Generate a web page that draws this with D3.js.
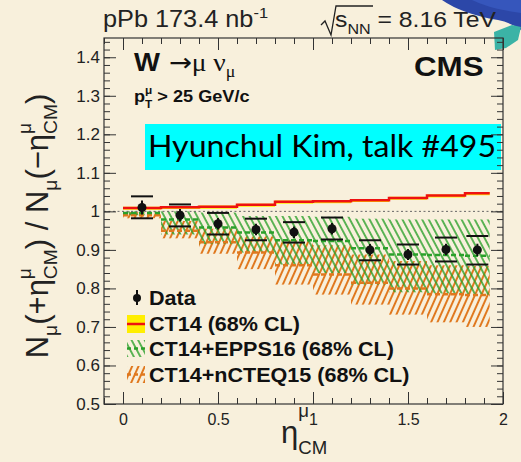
<!DOCTYPE html>
<html>
<head>
<meta charset="UTF-8">
<script src="https://cdn.jsdelivr.net/npm/d3@7"></script>
<style>
  body { margin: 0; background: #f8f0dc; }
  svg { display: block; }
</style>
</head>
<body>
<script>
const width = 521, height = 462;

// eta_CM bins
const binEdges = [0, 0.2, 0.4, 0.6, 0.8, 1.0, 1.2, 1.4, 1.6, 1.8, 1.93];

// data points
const dataX   = [0.1, 0.3, 0.5, 0.7, 0.9, 1.1, 1.3, 1.5, 1.7, 1.865];
const dataY   = [1.010, 0.990, 0.968, 0.953, 0.946, 0.955, 0.900, 0.888, 0.901, 0.900];
const statErr = [0.018, 0.016, 0.015, 0.015, 0.015, 0.015, 0.015, 0.014, 0.015, 0.016];
const sysHi   = [1.039, 1.018, 0.996, 0.981, 0.972, 0.984, 0.925, 0.914, 0.932, 0.936];
const sysLo   = [0.982, 0.961, 0.940, 0.925, 0.919, 0.927, 0.873, 0.862, 0.870, 0.862];

// CT14
const ct14    = [1.009, 1.011, 1.012, 1.017, 1.025, 1.026, 1.029, 1.035, 1.041, 1.047];
const ct14Hi  = [1.012, 1.014, 1.015, 1.020, 1.028, 1.029, 1.032, 1.038, 1.044, 1.050];
const ct14Lo  = [1.004, 1.006, 1.007, 1.012, 1.020, 1.021, 1.024, 1.030, 1.036, 1.042];

// CT14+EPPS16
const eppsHi  = [1.000, 1.000, 0.997, 0.988, 0.988, 0.986, 0.981, 0.979, 0.979, 0.979];
const eppsC   = [0.996, 0.979, 0.958, 0.945, 0.925, 0.923, 0.904, 0.888, 0.887, 0.885];
const eppsLo  = [0.990, 0.940, 0.915, 0.893, 0.862, 0.840, 0.810, 0.790, 0.787, 0.784];

// CT14+nCTEQ15
const ncteqHi = [0.998, 0.975, 0.955, 0.935, 0.925, 0.912, 0.888, 0.871, 0.860, 0.858];
const ncteqC  = [0.990, 0.950, 0.920, 0.893, 0.860, 0.836, 0.815, 0.800, 0.785, 0.783];
const ncteqLo = [0.982, 0.930, 0.890, 0.850, 0.810, 0.784, 0.758, 0.732, 0.712, 0.700];

const yTicks = [0.5, 0.6, 0.7, 0.8, 0.9, 1.0, 1.1, 1.2, 1.3, 1.4];
const xTicks = [0, 0.5, 1, 1.5, 2];

const legendLabels = ["Data", "CT14 (68% CL)", "CT14+EPPS16 (68% CL)", "CT14+nCTEQ15 (68% CL)"];

const helv = "'Liberation Sans', Arial, sans-serif";
const serif = "'Liberation Serif', 'DejaVu Serif', serif";
const sx = 1.1; // picture is a bit stretched sideways
const sp = "\u00a0";

const svg = d3.select("body").append("svg")
  .attr("width", width).attr("height", height);

svg.append("rect").attr("width", width).attr("height", height).attr("fill", "#f8f0dc");

// slide decoration top right
svg.append("path").attr("d", "M442,0 Q462,14 498,20 Q512,23 521,30 L521,0 Z").attr("fill", "#2c47a8");
svg.append("path").attr("d", "M472,0 Q490,9 521,13 L521,0 Z").attr("fill", "#3b5cc4").attr("opacity", 0.7);
svg.append("path").attr("d", "M494,32 L512,25 L521,27 L518,40 L506,48 L495,50 Z").attr("fill", "#3bb3a6");

const x = d3.scaleLinear().domain([-0.1, 2.0]).range([104, 503]);
const y = d3.scaleLinear().domain([0.5, 1.45]).range([404, 38]);

const defs = svg.append("defs");
function hatch(id, color, angle, sw, gap) {
  defs.append("pattern").attr("id", id)
    .attr("patternUnits", "userSpaceOnUse")
    .attr("width", gap).attr("height", gap)
    .attr("patternTransform", "rotate(" + angle + ")")
    .append("line")
    .attr("x1", gap / 2).attr("y1", 0).attr("x2", gap / 2).attr("y2", gap)
    .attr("stroke", color).attr("stroke-width", sw);
}
hatch("hOrange", "#e0781e", 24, 2, 5.8);
hatch("hGreen", "#2aa02a", -28, 1.5, 5.8);

const bins = d3.range(binEdges.length - 1);

// bands
function band(hi, lo, fill) {
  svg.append("g").selectAll("rect").data(bins).join("rect")
    .attr("x", i => x(binEdges[i]))
    .attr("width", i => x(binEdges[i + 1]) - x(binEdges[i]))
    .attr("y", i => y(hi[i]))
    .attr("height", i => y(lo[i]) - y(hi[i]))
    .attr("fill", fill);
}
function centre(c, color, sw, dash) {
  svg.append("g").selectAll("line").data(bins).join("line")
    .attr("x1", i => x(binEdges[i])).attr("x2", i => x(binEdges[i + 1]))
    .attr("y1", i => y(c[i])).attr("y2", i => y(c[i]))
    .attr("stroke", color).attr("stroke-width", sw)
    .attr("stroke-dasharray", dash);
}
band(ncteqHi, ncteqLo, "url(#hOrange)");
band(eppsHi, eppsLo, "url(#hGreen)");
centre(ncteqC, "#e0781e", 2.5, "5,3");
centre(eppsC, "#2aa02a", 2.5, "5,3");

// CT14 step band + line
const ctIdx = bins.concat([bins.length]);
const last = bins.length - 1;
svg.append("path")
  .datum(ctIdx)
  .attr("fill", "#ffee00")
  .attr("d", d3.area().curve(d3.curveStepAfter)
    .x(i => x(binEdges[i]))
    .y0(i => y(ct14Lo[Math.min(i, last)]))
    .y1(i => y(ct14Hi[Math.min(i, last)])));
svg.append("path")
  .datum(ctIdx)
  .attr("fill", "none").attr("stroke", "#ee1111").attr("stroke-width", 2.5)
  .attr("d", d3.line().curve(d3.curveStepAfter)
    .x(i => x(binEdges[i]))
    .y(i => y(ct14[Math.min(i, last)])));

// unity line
svg.append("line")
  .attr("x1", x(-0.1)).attr("x2", x(2.0)).attr("y1", y(1)).attr("y2", y(1))
  .attr("stroke", "#666").attr("stroke-width", 1).attr("stroke-dasharray", "2,2.5");

// data
const dg = svg.append("g");
const pts = d3.range(dataX.length);
dg.selectAll(".cap-hi").data(pts).join("line")
  .attr("x1", i => x(dataX[i]) - 11).attr("x2", i => x(dataX[i]) + 11)
  .attr("y1", i => y(sysHi[i])).attr("y2", i => y(sysHi[i]))
  .attr("stroke", "#111").attr("stroke-width", 2);
dg.selectAll(".cap-lo").data(pts).join("line")
  .attr("x1", i => x(dataX[i]) - 11).attr("x2", i => x(dataX[i]) + 11)
  .attr("y1", i => y(sysLo[i])).attr("y2", i => y(sysLo[i]))
  .attr("stroke", "#111").attr("stroke-width", 2);
dg.selectAll(".stat").data(pts).join("line")
  .attr("x1", i => x(dataX[i])).attr("x2", i => x(dataX[i]))
  .attr("y1", i => y(dataY[i] + statErr[i])).attr("y2", i => y(dataY[i] - statErr[i]))
  .attr("stroke", "#111").attr("stroke-width", 2);
dg.selectAll("circle").data(pts).join("circle")
  .attr("cx", i => x(dataX[i])).attr("cy", i => y(dataY[i])).attr("r", 4.5)
  .attr("fill", "#111");

// cyan label box
svg.append("rect").attr("x", 145).attr("y", 124).attr("width", 356).attr("height", 46)
  .attr("fill", "#00ffff");
svg.append("text").attr("x", 148).attr("y", 157)
  .attr("font-family", "Lato, 'Open Sans', sans-serif").attr("font-size", 31)
  .attr("textLength", 348).attr("lengthAdjust", "spacingAndGlyphs")
  .attr("fill", "#000").text("Hyunchul Kim, talk #495");

// axes (ticks on all four sides, pointing inwards)
const yMinor = d3.range(0.5, 1.4501, 0.02).map(v => +v.toFixed(2));
const xMinor = d3.range(-0.1, 2.0001, 0.1).map(v => +v.toFixed(2));
const fmt = d3.format("~g");
function axis(gen, tx, ty, vals, size, labels) {
  const g = svg.append("g").attr("transform", "translate(" + tx + "," + ty + ")")
    .call(gen.tickValues(vals).tickSize(size).tickPadding(4)
      .tickFormat(labels ? fmt : ""));
  g.select(".domain").remove();
  g.selectAll(".tick line").attr("stroke", "#333");
  g.selectAll(".tick text").attr("font-family", helv).attr("font-size", 17).attr("fill", "#222");
  return g;
}
axis(d3.axisLeft(y), 104, 0, yMinor, -6, false);
axis(d3.axisLeft(y), 104, 0, yTicks, -12, true);
axis(d3.axisRight(y), 503, 0, yMinor, -6, false);
axis(d3.axisRight(y), 503, 0, yTicks, -12, false);
axis(d3.axisBottom(x), 0, 404, xMinor, -6, false);
const xa = axis(d3.axisBottom(x), 0, 404, xTicks, -12, true);
xa.selectAll(".tick text").attr("dy", "1.05em").attr("font-size", 16);
axis(d3.axisTop(x), 0, 38, xMinor, -6, false);
axis(d3.axisTop(x), 0, 38, xTicks, -12, false);

svg.append("rect").attr("x", 104).attr("y", 38).attr("width", 399).attr("height", 366)
  .attr("fill", "none").attr("stroke", "#333").attr("stroke-width", 1.2);

// rich text: parts [text, kind, weight, family]; kind '' | 'u' | 'd' | 'ds' (sub stacked under sup)
function rich(transform, parts, o) {
  const g = svg.append("g").attr("transform", transform);
  const sc = o.scale || 0.65;
  let cx = 0, supStart = 0, supEnd = 0;
  parts.forEach(p => {
    const t = p[0], k = p[1] || "", wt = p[2] || o.weight || "normal", fam = p[3] || o.family || helv;
    const fs = k ? o.size * sc : o.size;
    let px = cx, py = 0;
    if (k === "u") { py = -o.size * (o.up || 0.42); supStart = cx; }
    if (k === "d") py = o.size * (o.down || 0.22);
    if (k === "ds") { px = supStart; py = o.size * (o.down || 0.22); }
    const el = g.append("text").attr("x", px).attr("y", py)
      .attr("font-family", fam).attr("font-size", fs)
      .attr("font-weight", wt).attr("fill", o.color || "#111").text(t);
    const w = el.node().getComputedTextLength();
    if (k === "ds") cx = Math.max(supEnd, px + w);
    else { cx = px + w; if (k === "u") supEnd = cx; }
  });
  if (o.anchor === "middle") {
    g.selectAll("text").attr("x", function () { return +this.getAttribute("x") - cx / 2; });
  }
  return g;
}

// top labels
rich("translate(103,27) scale(" + sx + ",1)", [["pPb 173.4 nb"], ["-1", "u"]], { size: 23, up: 0.38, color: "#222" });
svg.append("path").attr("d", "M321,25 L325,21 L331,35 L336,6 L373,6")
  .attr("fill", "none").attr("stroke", "#222").attr("stroke-width", 1.3);
rich("translate(335,27) scale(" + sx + ",1)", [["s"], ["NN", "d"], [sp + "= 8.16 TeV"]], { size: 22.5, down: 0.3, color: "#222" });

// inside labels
rich("translate(134,71) scale(" + sx + ",1)",
  [["W", "", "bold"], [sp + "\u2192", "", "normal", "'DejaVu Sans', sans-serif"],
   ["\u03bc", "", "normal", serif], [sp + "\u03bd", "", "normal", serif], ["\u03bc", "d", "normal", serif]],
  { size: 25, weight: "bold" });
rich("translate(134,102) scale(" + sx + ",1)",
  [["p"], ["\u03bc", "u"], ["T", "ds"], [sp + "> 25 GeV/c"]],
  { size: 16.5, weight: "bold", up: 0.5, down: 0.35 });
rich("translate(414,76) scale(" + sx + ",1)", [["CMS"]], { size: 28.5, weight: "bold" });

// axis titles
rich("translate(281,443)", [["\u03b7"], ["\u03bc", "u"], ["CM", "ds"]],
  { size: 31, scale: 0.6, up: 0.85, down: 0.35, color: "#222" });
rich("translate(48,226) rotate(-90)",
  [["N"], ["\u03bc", "d"], ["(+\u03b7"], ["\u03bc", "u"], ["CM", "ds"], [") / N"], ["\u03bc", "d"],
   ["(\u2212\u03b7"], ["\u03bc", "u"], ["CM", "ds"], [")"]],
  { size: 31, scale: 0.62, up: 0.55, down: 0.3, anchor: "middle", color: "#222" });

// legend
const lg = svg.append("g");
lg.append("line").attr("x1", 137).attr("x2", 137).attr("y1", 290).attr("y2", 305)
  .attr("stroke", "#111").attr("stroke-width", 2);
lg.append("circle").attr("cx", 137).attr("cy", 298).attr("r", 4).attr("fill", "#111");
lg.append("rect").attr("x", 127).attr("y", 315).attr("width", 18).attr("height", 18).attr("fill", "#ffee00");
lg.append("line").attr("x1", 127).attr("x2", 145).attr("y1", 324).attr("y2", 324)
  .attr("stroke", "#ee1111").attr("stroke-width", 2.5);
lg.append("rect").attr("x", 127).attr("y", 340).attr("width", 18).attr("height", 17).attr("fill", "url(#hGreen)");
lg.append("line").attr("x1", 127).attr("x2", 145).attr("y1", 348.5).attr("y2", 348.5)
  .attr("stroke", "#2aa02a").attr("stroke-width", 2.5).attr("stroke-dasharray", "4,3");
lg.append("rect").attr("x", 127).attr("y", 366).attr("width", 18).attr("height", 17).attr("fill", "url(#hOrange)");
lg.append("line").attr("x1", 127).attr("x2", 145).attr("y1", 374.5).attr("y2", 374.5)
  .attr("stroke", "#e0781e").attr("stroke-width", 2.5).attr("stroke-dasharray", "4,3");
const legY = [305, 331, 356, 382];
legendLabels.forEach((t, i) => {
  rich("translate(149," + legY[i] + ") scale(" + sx + ",1)", [[t]], { size: 19.6, weight: "bold" });
});
</script>
</body>
</html>
